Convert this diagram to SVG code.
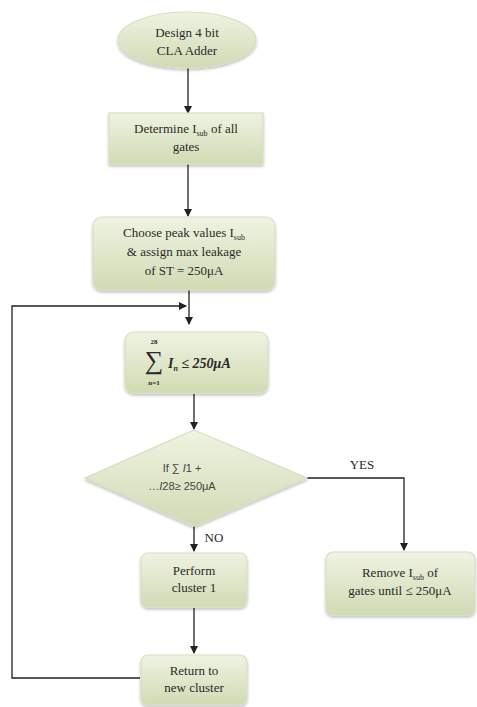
<svg xmlns="http://www.w3.org/2000/svg" width="477" height="707" viewBox="0 0 477 707">
<defs>
<linearGradient id="g" x1="0" y1="0" x2="0" y2="1">
<stop offset="0" stop-color="#eff3e2"/>
<stop offset="1" stop-color="#d0dbb3"/>
</linearGradient>
<marker id="ah" markerWidth="8" markerHeight="8" refX="7" refY="4" orient="auto" markerUnits="userSpaceOnUse">
<path d="M0,0 L8,4 L0,8 z" fill="#222"/>
</marker>
<filter id="sh" x="-10%" y="-10%" width="120%" height="130%">
<feGaussianBlur in="SourceAlpha" stdDeviation="1.5"/>
<feOffset dx="0" dy="1.5"/>
<feComponentTransfer><feFuncA type="linear" slope="0.25"/></feComponentTransfer>
<feMerge><feMergeNode/><feMergeNode in="SourceGraphic"/></feMerge>
</filter>
</defs>
<style>
.n{fill:url(#g);stroke:#d6dfc0;stroke-width:1.2;filter:url(#sh)}
.t{font-family:"Liberation Serif",serif;font-size:13px;fill:#2a2a2a;text-anchor:middle}
.s{font-family:"Liberation Sans",sans-serif;font-size:11px;fill:#444;text-anchor:middle}
.l{fill:none;stroke:#222;stroke-width:1.3}
.m{font-family:"Liberation Serif",serif;fill:#2a2a2a}
</style>
<rect width="477" height="707" fill="#fff"/>
<g id="connectors">
<line class="l" x1="188" y1="68" x2="188" y2="113" marker-end="url(#ah)"/>
<line class="l" x1="188" y1="164" x2="188" y2="216" marker-end="url(#ah)"/>
<line class="l" x1="189" y1="290" x2="189" y2="324" marker-end="url(#ah)"/>
<polyline class="l" points="140,678 12,678 12,306 186,306" marker-end="url(#ah)"/>
<line class="l" x1="194" y1="394" x2="194" y2="429" marker-end="url(#ah)"/>
<polyline class="l" points="307,478 404,478 404,550" marker-end="url(#ah)"/>
<line class="l" x1="194" y1="526" x2="194" y2="551" marker-end="url(#ah)"/>
<line class="l" x1="194" y1="608" x2="194" y2="653" marker-end="url(#ah)"/>
<text class="t" x="362" y="469" font-size="12">YES</text>
<text class="t" x="214" y="542" font-size="12">NO</text>
</g>
<g id="start">
<ellipse class="n" cx="187" cy="40" rx="69" ry="28"/>
<text class="t" x="187" y="37">Design 4 bit</text>
<text class="t" x="187" y="55">CLA Adder</text>
</g>
<g id="determine">
<rect class="n" x="109" y="113" width="154" height="51"/>
<text class="t" x="186" y="133">Determine I<tspan font-size="8" dy="3">sub</tspan><tspan dy="-3"> of all</tspan></text>
<text class="t" x="186" y="151">gates</text>
</g>
<g id="choose">
<rect class="n" x="93" y="217" width="182" height="73" rx="9"/>
<text class="t" x="184" y="237">Choose peak values I<tspan font-size="8" dy="3">sub</tspan></text>
<text class="t" x="184" y="256">&amp; assign max leakage</text>
<text class="t" x="184" y="275">of ST = 250μA</text>
</g>
<g id="sum">
<rect class="n" x="125" y="332" width="143" height="61" rx="9"/>
<text class="m" x="154" y="344" font-size="7" font-weight="bold" text-anchor="middle">28</text>
<text class="m" x="154" y="369" font-size="26" text-anchor="middle">∑</text>
<text class="m" x="154" y="385" font-size="7" font-weight="bold" text-anchor="middle">n=1</text>
<text class="m" x="168" y="368" font-size="14" font-style="italic" font-weight="bold">I<tspan font-size="8" dy="3">n</tspan><tspan dy="-3"> ≤ 250μA</tspan></text>
</g>
<g id="decision">
<polygon class="n" points="194,430 307,478 194,526 85,478"/>
<text class="s" x="182" y="472">If ∑ <tspan font-style="italic">I</tspan>1 +</text>
<text class="s" x="182" y="490">…<tspan font-style="italic">I</tspan>28≥ 250μA</text>
</g>
<g id="perform">
<rect class="n" x="141" y="553" width="106" height="54" rx="7"/>
<text class="t" x="194" y="575">Perform</text>
<text class="t" x="194" y="592">cluster 1</text>
</g>
<g id="return">
<rect class="n" x="141" y="655" width="106" height="50" rx="7"/>
<text class="t" x="194" y="675">Return to</text>
<text class="t" x="194" y="692">new cluster</text>
</g>
<g id="remove">
<rect class="n" x="326" y="552" width="149" height="63" rx="7"/>
<text class="t" x="400" y="577">Remove I<tspan font-size="8" dy="3">sub</tspan><tspan dy="-3"> of</tspan></text>
<text class="t" x="400" y="595">gates until ≤ 250μA</text>
</g>
</svg>
